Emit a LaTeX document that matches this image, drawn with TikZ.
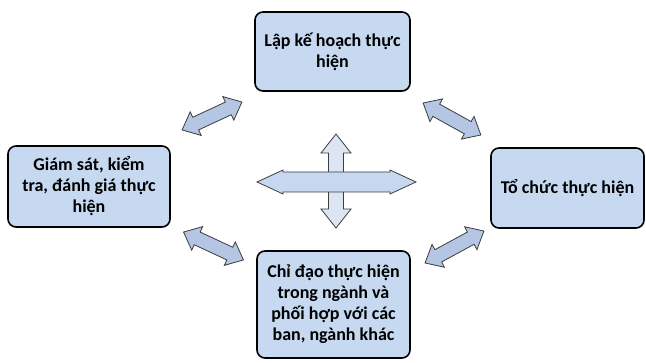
\documentclass[tikz,border=0pt]{standalone}
\usepackage{fontspec}
\setmainfont{Carlito}
\definecolor{boxfill}{RGB}{198,217,240}
\definecolor{diagfill}{RGB}{180,198,228}
\definecolor{hfill}{RGB}{197,216,240}
\definecolor{vfill}{RGB}{220,230,243}
\definecolor{arrline}{RGB}{60,60,60}
\tikzset{
  stepbox/.style={draw=black, line width=1.6pt, rounded corners=8pt, fill=boxfill,
    align=center, inner sep=0pt, font=\bfseries\fontsize{18}{21}\selectfont},
  pics/dblarr/.style n args={5}{code={
    \draw[draw=arrline, line width=0.8pt, line join=miter, fill=#5]
      (-#1,0) -- (-#1+#3,#2) -- (-#1+#3,#4) -- (#1-#3,#4) -- (#1-#3,#2) -- (#1,0)
      -- (#1-#3,-#2) -- (#1-#3,-#4) -- (-#1+#3,-#4) -- (-#1+#3,-#2) -- cycle;
  }}
}
\begin{document}
\begin{tikzpicture}[x=1pt,y=1pt]
\useasboundingbox (0,0) rectangle (646,362);
% boxes
\node[stepbox, minimum width=155pt, minimum height=79pt] (top) at (332.5,310.5) {Lập kế hoạch thực\\hiện};
\node[stepbox, minimum width=162pt, minimum height=81pt] (left) at (89,175.5) {Giám sát, kiểm\\tra, đánh giá thực\\hiện};
\node[stepbox, minimum width=153pt, minimum height=80pt] (right) at (567.5,174) {Tổ chức thực hiện};
\node[stepbox, minimum width=153pt, minimum height=107pt] (bottom) at (333.5,57.5) {Chỉ đạo thực hiện\\trong ngành và\\phối hợp với các\\ban, ngành khác};
% diagonal arrows
\pic[rotate=25] (atl) at (212,246) {dblarr={33}{13}{15}{7}{diagfill}};
\pic[rotate=-29] (atr) at (452,243) {dblarr={33}{13}{15}{7}{diagfill}};
\pic[rotate=-25] (abl) at (213.5,116) {dblarr={33}{13}{15}{7}{diagfill}};
\pic[rotate=28.5] (abr) at (454.5,115) {dblarr={33.5}{13}{15}{7}{diagfill}};
% centre cross
\pic[rotate=90] (vert) at (336,181) {dblarr={47}{15}{19}{7.5}{vfill}};
\pic (horz) at (336.5,180) {dblarr={79.5}{12}{26}{10}{hfill}};
\end{tikzpicture}
\end{document}
